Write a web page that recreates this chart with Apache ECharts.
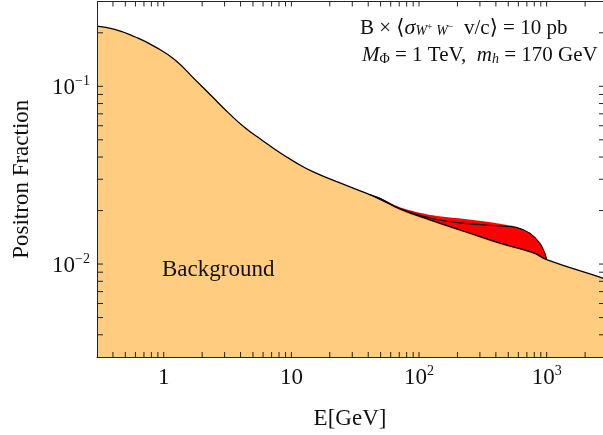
<!DOCTYPE html>
<html>
<head>
<meta charset="utf-8">
<script src="https://cdn.jsdelivr.net/npm/echarts@6/dist/echarts.min.js"></script>
<style>
  html, body { margin: 0; padding: 0; background: #fff; }
  #container { width: 603px; height: 435px; }
</style>
</head>
<body>
<div id="container"></div>
<script>
// energies (GeV) for the background curve
var curveE = [0.3, 0.413, 0.593, 0.85, 1.22, 1.75, 2.38, 3.17, 4.31, 5.86, 7.82, 10.6, 14.7, 27.2,
  41.1, 49.3, 70.7, 128.3, 237, 430, 780, 1000, 2710, 3000];
// background + lowest signal (black line)
var curveF = [0.218, 0.209, 0.190, 0.1673, 0.1410, 0.1094, 0.0879, 0.0716, 0.0586, 0.0499, 0.0431, 0.0376, 0.0331, 0.0276,
  0.0246, 0.0234, 0.0204, 0.01750, 0.01510, 0.01310, 0.01159, 0.01059, 0.00836, 0.00815];
// pure background (filled)
var bgFillF = [0.218, 0.209, 0.190, 0.1673, 0.1410, 0.1094, 0.0879, 0.0716, 0.0586, 0.0499, 0.0431, 0.0376, 0.0331, 0.0276,
  0.0246, 0.0231, 0.0201, 0.01723, 0.01487, 0.01290, 0.01150, 0.01059, 0.00836, 0.00815];

// upper edge of the red band
var redE = [41.1, 49.3, 70.7, 128.3, 237, 430, 584, 738, 885, 968, 1000];
var redTopF = [0.0246, 0.0236, 0.0209, 0.01879, 0.01784, 0.01688, 0.01616, 0.01490, 0.01310, 0.01152, 0.01059];

// middle black line
var lineAE = [41.1, 70.7, 128.3, 237, 430, 584, 738, 885, 968, 1000];
var lineAF = [0.0246, 0.02056, 0.0180, 0.01688, 0.01637, 0.01603, 0.01490, 0.01310, 0.01152, 0.01059];

var xTicks = [0.4, 0.5, 0.6, 0.7, 0.8, 0.9, 1, 2, 3, 4, 5, 6, 7, 8, 9, 10, 20, 30, 40, 50, 60, 70, 80, 90,
  100, 200, 300, 400, 500, 600, 700, 800, 900, 1000, 2000];
var xLabels = [1, 10, 100, 1000];
var yTicks = [0.004, 0.005, 0.006, 0.007, 0.008, 0.009, 0.01, 0.02, 0.03, 0.04, 0.05, 0.06, 0.07, 0.08, 0.09, 0.1, 0.2];
var yLabels = [0.01, 0.1];
var xRange = [0.3, 2763];
var yRange = [0.003, 0.3];

// both axes are logarithmic: plot log10 of the values on value axes
var lg = Math.log10;
function pairs(xs, ys) {
  return xs.map(function (x, i) { return [lg(x), lg(ys[i])]; });
}

var font = '"Liberation Serif", "DejaVu Serif", serif';
var frame = '#222';

function near(a, b) { return Math.abs(a - b) < 1e-6; }
function xFmt(v) {
  if (near(v, 0)) return '{b|1}';
  if (near(v, 1)) return '{b|10}';
  if (near(v, 2)) return '{b|10}{s|2}';
  if (near(v, 3)) return '{b|10}{s|3}';
  return '';
}
function yFmt(v) {
  if (near(v, -1)) return '{b|10}{s|\u22121}';
  if (near(v, -2)) return '{b|10}{s|\u22122}';
  return '';
}
var labelRich = {
  b: { fontFamily: font, fontSize: 23, color: '#111', lineHeight: 26, verticalAlign: 'bottom' },
  s: { fontFamily: font, fontSize: 14, color: '#111', lineHeight: 26, verticalAlign: 'bottom', padding: [0, 0, 11, 0] }
};

function logAxis(range, extra) {
  var base = {
    type: 'value', z: 10, min: lg(range[0]), max: lg(range[1]),
    axisLine: { show: true, onZero: false, lineStyle: { color: frame, width: 1 } },
    axisTick: { show: false },
    axisLabel: { show: false },
    splitLine: { show: false }
  };
  return echarts.util.merge(base, extra, true);
}

// tick marks on all four sides of the frame (plus the top edge of the frame)
function tickSeries(values, isX) {
  return {
    type: 'custom', z: 10, silent: true, clip: false,
    data: values.map(lg),
    renderItem: function (params, api) {
      var v = api.value(0);
      var lineStyle = { stroke: frame, lineWidth: 1 };
      var a, b, parts;
      if (isX) {
        a = api.coord([v, lg(yRange[0])]);
        b = api.coord([v, lg(yRange[1])]);
        parts = [
          { type: 'line', shape: { x1: a[0], y1: a[1], x2: a[0], y2: a[1] - 5 }, style: lineStyle },
          { type: 'line', shape: { x1: b[0], y1: b[1], x2: b[0], y2: b[1] + 5 }, style: lineStyle }
        ];
        if (params.dataIndex === 0) {
          var l = api.coord([lg(xRange[0]), lg(yRange[1])]);
          var r = api.coord([lg(xRange[1]), lg(yRange[1])]);
          parts.push({ type: 'line', shape: { x1: l[0], y1: l[1], x2: r[0], y2: r[1] }, style: lineStyle });
        }
        return { type: 'group', children: parts };
      }
      a = api.coord([lg(xRange[0]), v]);
      b = api.coord([lg(xRange[1]), v]);
      return { type: 'group', children: [
        { type: 'line', shape: { x1: a[0], y1: a[1], x2: a[0] + 6, y2: a[1] }, style: lineStyle },
        { type: 'line', shape: { x1: b[0], y1: b[1], x2: b[0] - 4, y2: b[1] }, style: lineStyle }
      ] };
    }
  };
}

var chart = echarts.init(document.getElementById('container'));

var option = {
  animation: false,
  backgroundColor: '#fff',
  grid: { left: 97, right: 0, top: 1.5, bottom: 77 },
  xAxis: logAxis(xRange, {
    position: 'bottom',
    name: 'E[GeV]', nameLocation: 'middle', nameGap: 50,
    nameTextStyle: { fontFamily: font, fontSize: 23, color: '#111' },
    axisLabel: { show: true, customValues: xLabels.map(lg), formatter: xFmt, rich: labelRich, margin: 6 }
  }),
  yAxis: logAxis(yRange, {
    position: 'left',
    name: 'Positron Fraction', nameLocation: 'middle', nameGap: 64,
    nameTextStyle: { fontFamily: font, fontSize: 23, color: '#111' },
    axisLabel: { show: true, customValues: yLabels.map(lg), formatter: yFmt, rich: labelRich, margin: 7 }
  }),
  graphic: [{
    type: 'text', left: 360, top: 17, z: 100,
    style: {
      text: 'B \u00d7 \u27e8{i|\u03c3}{sub|W}{sup2|+}{sub| W}{sup2|\u2212}  v/c\u27e9 = 10 pb',
      fontFamily: font, fontSize: 21, fill: '#111',
      rich: {
        i: { fontFamily: font, fontSize: 22, fontStyle: 'italic', fill: '#111' },
        sub: { fontFamily: font, fontSize: 14, fontStyle: 'italic', fill: '#111', padding: [7, 0, 0, 0] },
        sup2: { fontFamily: font, fontSize: 10, fill: '#111', padding: [0, 0, 2, 0] }
      }
    }
  }, {
    type: 'text', left: 362, top: 45, z: 100,
    style: {
      text: '{i|M}{sub|\u03a6} = 1 TeV,  {i|m}{subi|h} = 170 GeV',
      fontFamily: font, fontSize: 21, fill: '#111',
      rich: {
        i: { fontFamily: font, fontSize: 21, fontStyle: 'italic', fill: '#111' },
        sub: { fontFamily: font, fontSize: 14, fill: '#111', padding: [7, 0, 0, 0] },
        subi: { fontFamily: font, fontSize: 14, fontStyle: 'italic', fill: '#111', padding: [7, 0, 0, 0] }
      }
    }
  }, {
    type: 'text', left: 162, top: 258, z: 100,
    style: { text: 'Background', fontFamily: font, fontSize: 23, fill: '#111' }
  }],
  series: [{
    name: 'signal band', type: 'line', data: pairs(redE, redTopF), z: 2,
    smooth: 0.3, symbol: 'none',
    lineStyle: { width: 0 }, areaStyle: { color: '#FF0000', opacity: 1, origin: 'start' }
  }, {
    name: 'lower band', type: 'line', data: pairs(curveE, curveF), z: 3,
    smooth: 0.5, symbol: 'none',
    lineStyle: { width: 0 }, areaStyle: { color: '#FFA51E', opacity: 1, origin: 'start' }
  }, {
    name: 'Background', type: 'line', data: pairs(curveE, bgFillF), z: 4,
    smooth: 0.5, symbol: 'none',
    lineStyle: { width: 0 }, areaStyle: { color: '#FFCC80', opacity: 1, origin: 'start' }
  }, {
    name: 'curve B', type: 'line', data: pairs(curveE, curveF), z: 5,
    smooth: 0.5, symbol: 'none',
    lineStyle: { color: '#000', width: 1.3 }
  }, {
    name: 'curve A', type: 'line', data: pairs(lineAE, lineAF), z: 5,
    smooth: 0.3, symbol: 'none',
    lineStyle: { color: '#000', width: 1.1 }
  },
  tickSeries(xTicks, true),
  tickSeries(yTicks, false)]
};

chart.setOption(option);
</script>
</body>
</html>
